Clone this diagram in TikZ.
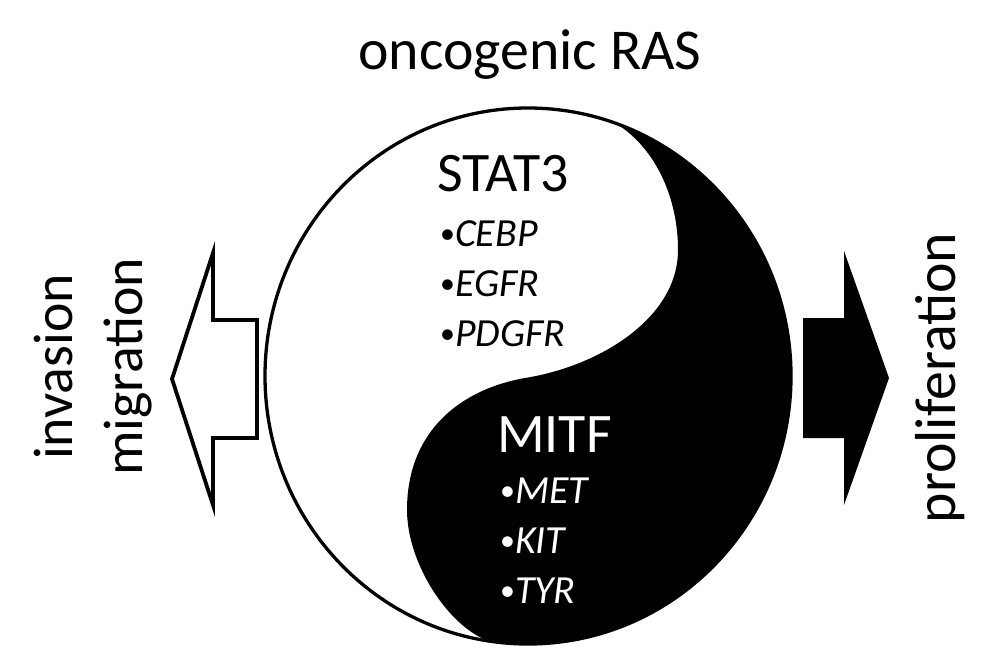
\documentclass[tikz,border=0pt]{standalone}
\usepackage{fontspec}
\setmainfont{Carlito}
\newcommand{\bul}{\raisebox{2.5bp}{\fontsize{30}{30}\selectfont •}}
\begin{document}
\begin{tikzpicture}[x=1bp,y=-1bp,
  bigtext/.style={inner sep=0pt,font=\fontsize{56}{60}\selectfont},
  itemtext/.style={inner sep=0pt,anchor=base west,font=\fontsize{40}{42}\selectfont},
  outline/.style={line width=3.3bp,draw=black},
  arrowline/.style={line width=3.8bp,draw=black,line join=miter}]
\useasboundingbox (0,0) rectangle (981,650);
% black half of the yin-yang
\begin{scope}
  \clip (528,376) ellipse [x radius=263, y radius=268];
  \fill[black] (800,90) -- (572,90) -- (572,111)
    .. controls (630,111) and (678,173) .. (678,250)
    .. controls (678,318) and (600,366) .. (525,378)
    .. controls (462,389) and (407,430) .. (407,510)
    .. controls (407,570) and (460,644) .. (505,644)
    -- (505,665) -- (800,665) -- cycle;
\end{scope}
\draw[outline] (528,376) ellipse [x radius=263, y radius=268];
% arrows
\coordinate (lt) at (172,379);
\coordinate (rt) at (889,378);
\draw[arrowline,fill=white] (lt) -- (213,253) -- (213,320) -- (257,320) -- (257,438) -- (213,438) -- (213,505) -- cycle;
\fill[black] (803,318) -- (844,318) -- (844,251) -- (rt) -- (844,505) -- (844,438) -- (803,438) -- cycle;
% texts
\node[bigtext,anchor=base,font=\fontsize{58}{60}\selectfont] (ras) at (530,70) {oncogenic RAS};
\node[bigtext,anchor=base west] (stat) at (437,192) {STAT3};
\node[itemtext] (cebp) at (440,246) {\bul\textit{CEBP}};
\node[itemtext] (egfr) at (440,296) {\bul\textit{EGFR}};
\node[itemtext] (pdgfr) at (440,346) {\bul\textit{PDGFR}};
\node[bigtext,anchor=base west,text=white] (mitf) at (497,452) {MITF};
\node[itemtext,text=white] (met) at (500,503) {\bul\textit{MET}};
\node[itemtext,text=white] (kit) at (500,553) {\bul\textit{KIT}};
\node[itemtext,text=white] (tyr) at (500,603) {\bul\textit{TYR}};
\node[bigtext,anchor=base,rotate=90] (inv) at (72,367) {invasion};
\node[bigtext,anchor=base,rotate=90] (mig) at (142,367) {migration};
\node[bigtext,anchor=base,rotate=90,font=\fontsize{58}{60}\selectfont] (prol) at (955,378) {proliferation};
\end{tikzpicture}
\end{document}
